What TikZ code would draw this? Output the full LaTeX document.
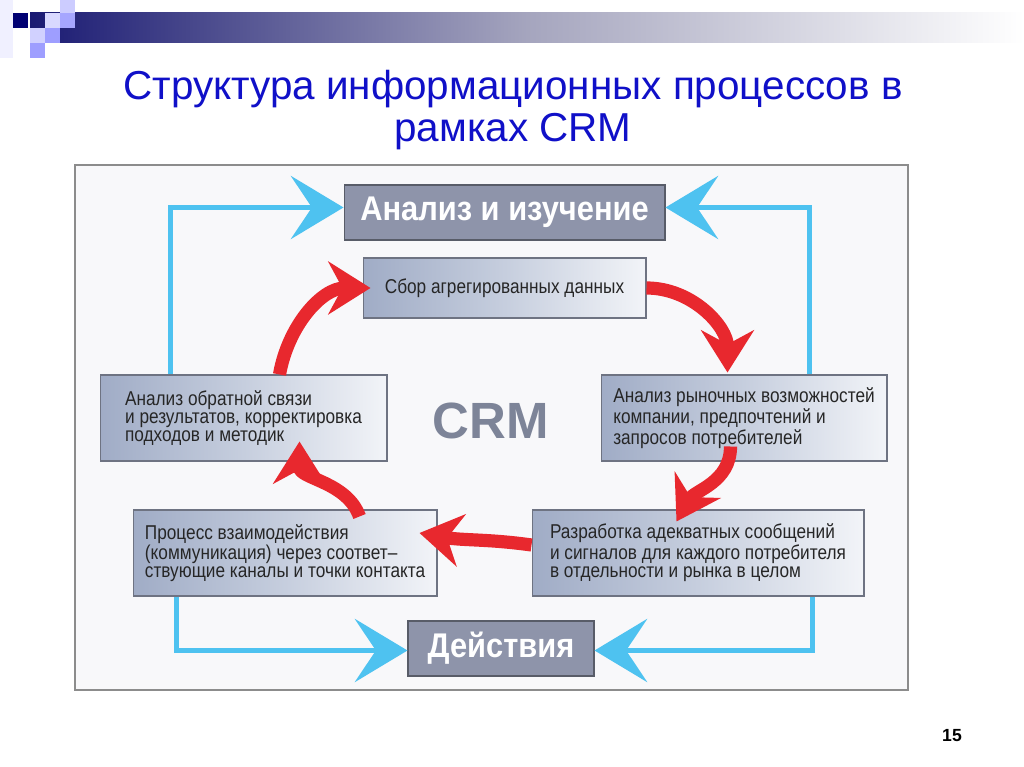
\documentclass[tikz,border=0pt]{standalone}
\usepackage{fontspec}
\setmainfont{Liberation Sans}
\newfontfamily\condfont[FakeStretch=0.86]{Liberation Sans}
\newfontfamily\heavyfont[FakeStretch=0.9]{Liberation Sans}
\usetikzlibrary{arrows.meta,calc,positioning}

\definecolor{titleblue}{RGB}{16,16,200}
\definecolor{barnavy}{RGB}{26,26,115}
\definecolor{barmid}{RGB}{165,165,190}
\definecolor{framebg}{RGB}{248,248,250}
\definecolor{boxdark}{RGB}{142,148,170}
\definecolor{boxleft}{RGB}{160,172,198}
\definecolor{boxmid}{RGB}{198,206,222}
\definecolor{boxright}{RGB}{242,244,248}
\definecolor{boxline}{RGB}{110,115,130}
\definecolor{crmgray}{RGB}{125,132,152}
\definecolor{skyblue}{RGB}{78,194,240}
\definecolor{arrowred}{RGB}{232,40,46}

\tikzset{
  stagebox/.style={draw=boxline, line width=0.6pt, left color=boxleft,
    right color=boxright, middle color=boxmid, text=black!85,
    font=\condfont\fontsize{11.4}{10.4}\selectfont, align=left,
    inner ysep=0pt},
  headbox/.style={draw=boxline!80!black, line width=0.6pt, fill=boxdark,
    text=white, font=\heavyfont\bfseries\fontsize{19.5}{19.5}\selectfont},
  bluelink/.style={draw=skyblue, line width=2.4pt,
    -{Stealth[length=30pt,width=36pt,inset=12pt]}},
  redlink/.style={draw=arrowred, line width=7.5pt,
    -{Stealth[length=24pt,width=30pt,inset=8pt]}},
}

\begin{document}
\begin{tikzpicture}[x=0.02cm,y=0.02cm]
  \useasboundingbox (0,0) rectangle (1024,767);
  %%%%% HEADER %%%%%
  \shade[left color=barnavy, right color=white, middle color=barmid] (30,724) rectangle (1024,754);
  \fill[black!2!blue!6] (0,709) rectangle (13,767);
  \fill[blue!45!black] (13,739) rectangle (28,754);
  \fill[blue!20!white] (60,754) rectangle (75,767);
  \fill[blue!15!white] (45,739) rectangle (60,754);
  \fill[blue!35!white] (60,739) rectangle (75,754);
  \fill[blue!18!white] (30,724) rectangle (45,739);
  \fill[blue!38!white] (45,724) rectangle (60,739);
  \fill[blue!38!white] (30,709) rectangle (45,724);

  \node[text=titleblue, font=\fontsize{23}{23.8}\selectfont, align=center] (title) at (513,657)
    {Структура информационных процессов в\\рамках CRM};

  %%%%% FRAME %%%%%
  \draw[fill=framebg, draw=black!45, line width=0.8pt] (75,77) rectangle (908,602);

  %%%%% BOXES %%%%%
  \node[headbox, minimum width=6.42cm, minimum height=1.1cm] (analiz) at (504.5,554.5) {Анализ и изучение};
  \node[stagebox, minimum width=5.66cm, minimum height=1.2cm, align=center] (sbor) at (504.5,479) {Сбор агрегированных данных};
  \node[stagebox, minimum width=5.74cm, minimum height=1.72cm] (obr) at (243.5,349)
    {Анализ обратной связи\\и результатов, корректировка\\подходов и методик};
  \node[stagebox, minimum width=5.72cm, minimum height=1.72cm] (ryn) at (744,349)
    {Анализ рыночных возможностей\\компании, предпочтений и\\запросов потребителей};
  \node[stagebox, minimum width=6.08cm, minimum height=1.72cm] (proc) at (285,214)
    {Процесс взаимодействия\\(коммуникация) через соответ–\\ствующие каналы и точки контакта};
  \node[stagebox, minimum width=6.64cm, minimum height=1.72cm] (razr) at (698,214)
    {Разработка адекватных сообщений\\и сигналов для каждого потребителя\\в отдельности и рынка в целом};
  \node[headbox, minimum width=3.72cm, minimum height=1.1cm] (deist) at (501,118.5) {Действия};

  \node[text=crmgray, font=\bfseries\fontsize{29}{29}\selectfont] (crm) at (491,346) {CRM};

  %%%%% BLUE LINKS %%%%%
  \draw[bluelink] ($(obr.north west)+(71,0)$) |- ($(analiz.west)+(0,5)$);
  \draw[bluelink] ($(ryn.north west)+(209,0)$) |- ($(analiz.east)+(0,5)$);
  \draw[bluelink] ($(proc.south west)+(44,0)$) |- ($(deist.west)+(0,-2)$);
  \draw[bluelink] ($(razr.south west)+(281,0)$) |- ($(deist.east)+(0,-2)$);

  %%%%% RED CYCLE %%%%%
  \draw[redlink] ($(obr.north west)+(180,0)$) to[out=80,in=180] ($(sbor.west)+(8,0)$);
  \draw[redlink] (sbor.east) to[out=0,in=90] ($(ryn.north west)+(127,2)$);
  \draw[redlink] ($(ryn.south west)+(130,15)$) to[out=-90,in=60] ($(razr.north west)+(145,-12)$);
  \draw[redlink] ($(razr.west)+(0,8)$) to[out=172,in=-10] ($(proc.east)+(-18,20)$);
  \draw[redlink] ($(proc.north west)+(227,-7)$) to[out=110,in=-90] ($(obr.south west)+(200,20)$);

  \node[font=\bfseries\fontsize{10}{10}\selectfont] (pagenum) at (952,31) {15};
\end{tikzpicture}
\end{document}
